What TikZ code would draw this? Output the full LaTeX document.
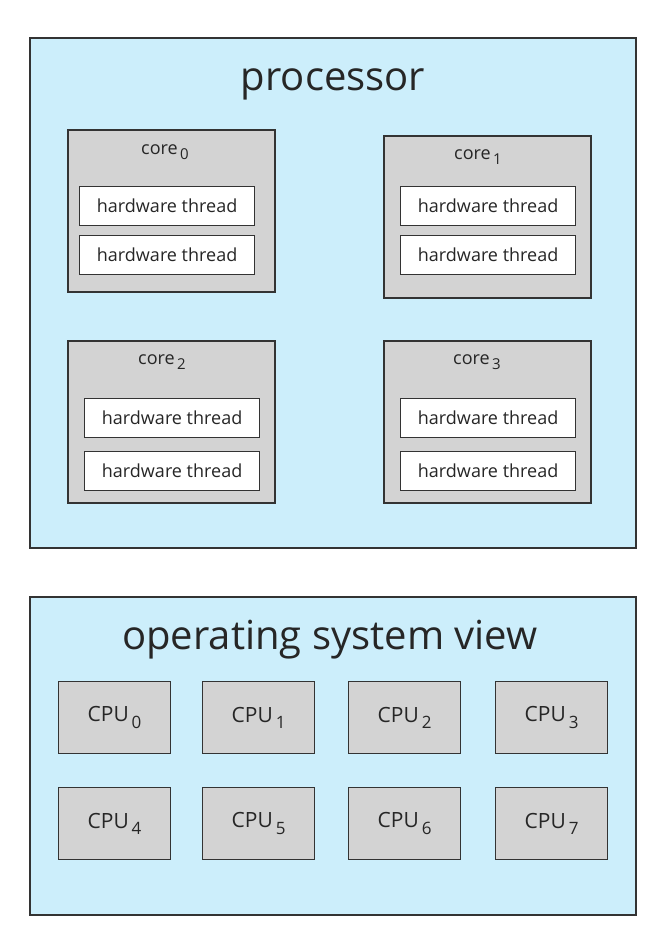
\documentclass[tikz,border=0pt]{standalone}
\usepackage{fontspec}
\setmainfont{Open Sans}
\definecolor{pblue}{HTML}{CCEEFB}
\definecolor{pgray}{HTML}{D3D3D3}
\newcommand{\sbs}[2]{\raisebox{-0.3em}{\fontsize{#1}{#1}\selectfont\,#2}}
\begin{document}
\begin{tikzpicture}[x=1pt,y=-1pt,
 outer/.style={draw=black!80,line width=1.2pt,fill=pblue},
 core/.style={draw=black!80,line width=1.2pt,fill=pgray},
 thr/.style={draw=black!80,line width=1.2pt,fill=white},
 lbl/.style={font=\fontsize{18}{21}\selectfont,text=black!85},
 cpul/.style={font=\fontsize{21}{24}\selectfont,text=black!85}]
\useasboundingbox (0,0) rectangle (665,952);
\draw[outer] (30,38) rectangle (636,548);
\node[font=\fontsize{40}{46}\selectfont,text=black!85] (ptitle) at (333,84) {processor};
\foreach \n/\x/\y/\ty/\tx/\lx/\ly/\s in {0/68/130/186/79/165/152/0,1/384/136/186/400/478/157/1,2/68/341/398/84/162/362/2,3/384/341/398/400/477/362/3}{
 \draw[core] (\x,\y) rectangle ++(207,162);
 \node[lbl] (c\n) at (\lx,\ly) {core\sbs{15}{\s}};
}
\foreach \n/\x/\ya/\yb in {0/79/186/235,1/400/186/235,2/84/398/451,3/400/398/451}{
 \node[thr,lbl,minimum width=175pt,minimum height=39pt,inner sep=0pt,anchor=north west] (t\n a) at (\x,\ya) {hardware thread};
 \node[thr,lbl,minimum width=175pt,minimum height=39pt,inner sep=0pt,anchor=north west] (t\n b) at (\x,\yb) {hardware thread};
}
\draw[outer] (30,597) rectangle (636,915);
\node[font=\fontsize{40}{46}\selectfont,text=black!85] (ostitle) at (330,640) {operating system view};
\foreach \i/\x/\y in {0/58/681,1/202/681,2/348/681,3/495/681,4/58/787,5/202/787,6/348/787,7/495/787}{
 \node[core,cpul,minimum width=112pt,minimum height=72pt,inner sep=0pt,anchor=north west] (cpu\i) at (\x,\y) {CPU\sbs{17}{\i}};
}
\end{tikzpicture}
\end{document}
